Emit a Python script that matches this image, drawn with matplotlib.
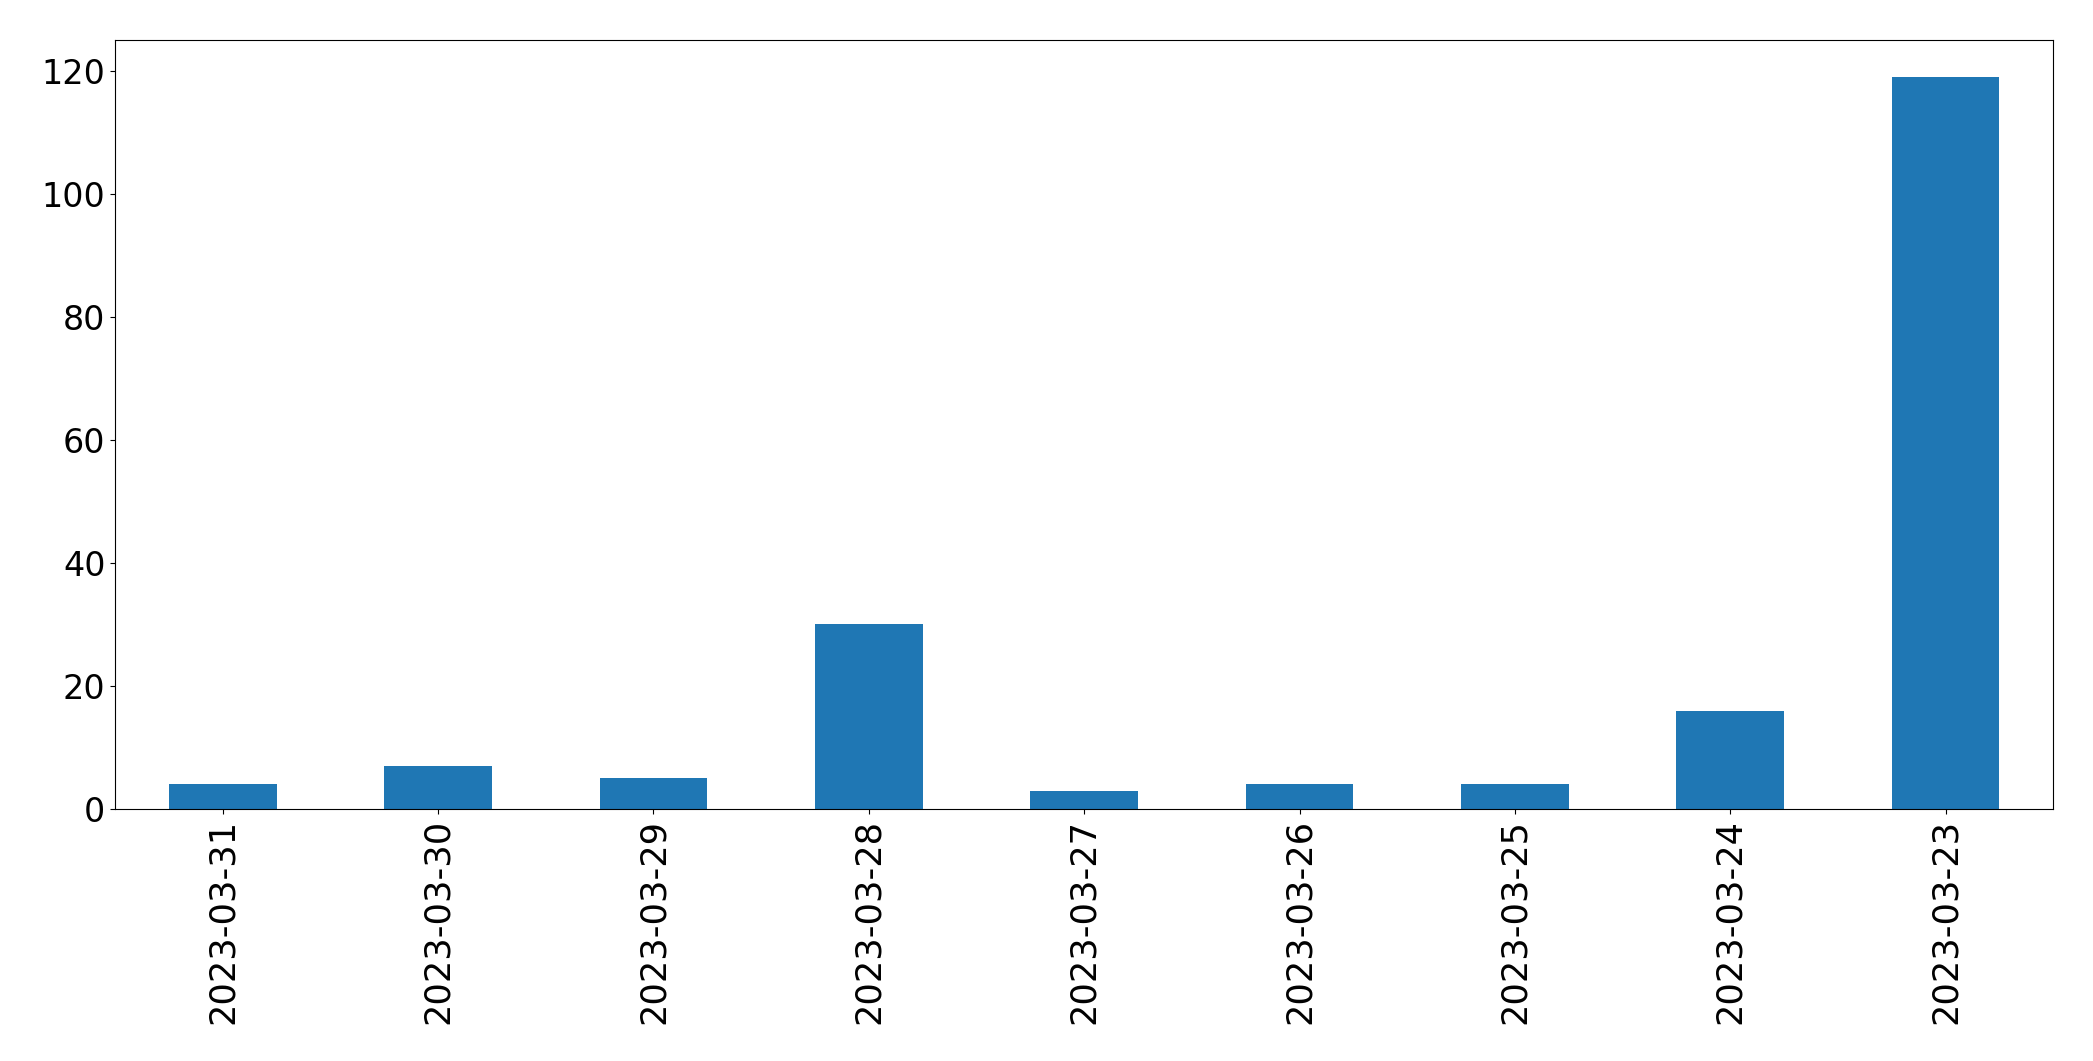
import numpy as np
import pandas as pd
import matplotlib
matplotlib.use('Agg')
import matplotlib.pyplot as plt

# dates in the order they appear (newest first)
dates = ['2023-03-31', '2023-03-30', '2023-03-29', '2023-03-28', '2023-03-27',
         '2023-03-26', '2023-03-25', '2023-03-24', '2023-03-23']
counts = [4, 7, 5, 30, 3, 4, 4, 16, 119]

s = pd.Series(counts, index=dates)

fig, ax = plt.subplots(figsize=(20.93, 10.61), dpi=100)
s.plot(kind='bar', ax=ax, color='#1f77b4')
ax.tick_params(axis='y', labelsize=24)
ax.tick_params(axis='x', labelsize=25.3)
fig.subplots_adjust(left=0.055, right=0.981, top=0.962, bottom=0.2375)
fig.savefig('out.png', dpi=100)
